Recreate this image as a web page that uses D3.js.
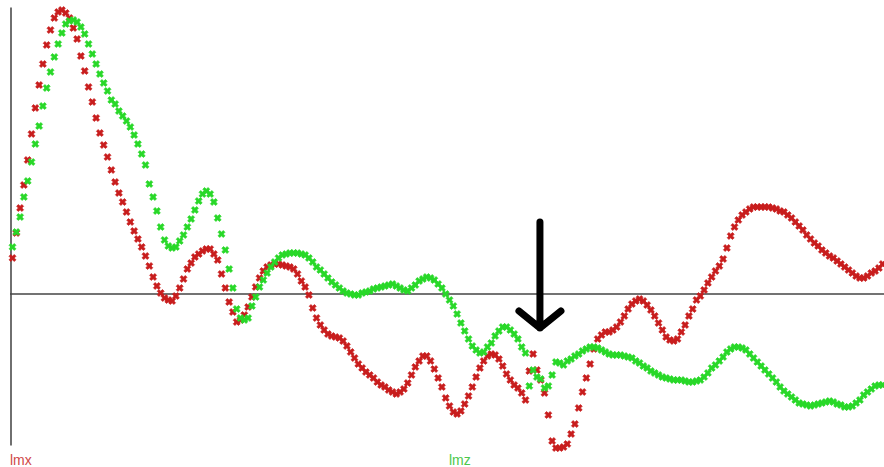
<!DOCTYPE html>
<html>
<head>
<meta charset="utf-8">
<script src="https://cdn.jsdelivr.net/npm/d3@7"></script>
<style>
  html, body { margin: 0; padding: 0; background: #fff; }
  svg { display: block; }
</style>
</head>
<body>
<svg id="chart" width="884" height="467"></svg>
<script>
// Series labels
const seriesNames = ["lmx", "lmz"];

// lmx samples (one per time step)
const lmx = [
  36, 61, 86, 109, 134, 160, 186, 209, 230, 249,
  264, 276, 282, 284, 281, 276, 266, 255, 238, 223,
  207, 192, 176, 161, 149, 137, 124, 112, 101, 92,
  82, 72, 63, 55, 47, 38, 28, 17, 8, 1,
  -4, -6, -7, -2, 6, 15, 25, 31, 37, 40,
  43, 45, 45, 40, 34, 20, 6, -8, -18, -28,
  -26, -21, -13, -3, 7, 16, 23, 27, 29, 30,
  30, 29, 28, 27, 25, 20, 13, 7, -1, -14,
  -24, -31, -36, -40, -42, -43, -44, -47, -52, -58,
  -64, -70, -74, -78, -81, -84, -88, -91, -93, -96,
  -98, -100, -98, -95, -89, -81, -73, -67, -62, -62,
  -67, -75, -84, -93, -104, -112, -118, -120, -117, -110,
  -102, -93, -83, -74, -67, -62, -60, -61, -65, -72,
  -80, -86, -91, -94, -99, -106, -77, -60, -76, -86,
  -99, -121, -147, -154, -154, -153, -150, -140, -130, -114,
  -98, -84, -70, -55, -45, -41, -38, -38, -36, -33,
  -28, -22, -15, -10, -7, -5, -7, -11, -16, -22,
  -29, -36, -43, -46, -47, -45, -38, -31, -22, -15,
  -6, -2, 4, 11, 17, 23, 28, 35, 46, 58,
  67, 74, 79, 82, 85, 87, 87, 87, 87, 87,
  86, 85, 83, 82, 79, 76, 72, 68, 64, 59,
  55, 51, 48, 44, 41, 38, 36, 33, 30, 27,
  24, 21, 18, 16, 16, 18, 21, 23, 26, 30
];

// lmz samples (same time steps)
const lmz = [
  47, 62, 77, 97, 113, 132, 150, 168, 188, 206,
  222, 237, 250, 261, 270, 273, 274, 272, 267, 260,
  250, 240, 230, 220, 211, 203, 194, 190, 183, 178,
  173, 167, 159, 150, 140, 129, 110, 97, 83, 67,
  54, 48, 46, 47, 53, 59, 67, 75, 84, 93,
  100, 103, 100, 92, 76, 60, 44, 25, 6, -15,
  -24, -26, -24, -12, -3, 7, 14, 21, 27, 32,
  36, 39, 40, 41, 41, 41, 40, 39, 36, 32,
  27, 24, 20, 16, 12, 9, 6, 3, 1, 0,
  -1, -1, 1, 2, 3, 5, 6, 7, 8, 9,
  10, 8, 6, 4, 3, 6, 9, 13, 15, 17,
  16, 14, 10, 6, 0, -6, -12, -20, -29, -37,
  -45, -52, -56, -59, -58, -53, -49, -42, -37, -33,
  -33, -36, -40, -45, -53, -59, -92, -76, -83, -85,
  -94, -92, -81, -68, -69, -71, -67, -65, -62, -60,
  -57, -55, -53, -53, -54, -56, -58, -60, -61, -61,
  -61, -62, -63, -64, -67, -69, -72, -74, -77, -79,
  -81, -83, -84, -85, -86, -86, -86, -87, -88, -88,
  -87, -86, -83, -79, -74, -71, -67, -63, -58, -55,
  -53, -53, -54, -56, -60, -64, -68, -72, -76, -80,
  -84, -88, -93, -97, -100, -103, -106, -109, -110, -111,
  -112, -111, -110, -109, -108, -107, -108, -110, -111, -113,
  -113, -112, -109, -106, -101, -98, -95, -92, -91, -91
];

// Arrow annotation: sample position and value span
const arrowAt = [138.8, 72, -34];

const colors = { lmx: "#c81d1d", lmz: "#28d828" };
const labelColors = { lmx: "#d04848", lmz: "#4cc84c" };

const svg = d3.select("#chart");

const x = d3.scaleLinear().domain([0, lmx.length - 1]).range([12.5, 882.7]);
const y = d3.scaleLinear().domain([-151, 287]).range([445, 7]);

// Vertical axis line
svg.append("g")
  .attr("transform", "translate(10.5,0)")
  .call(d3.axisLeft(y).ticks(0).tickSizeOuter(0))
  .select(".domain").attr("stroke", "#333").attr("stroke-width", 1.4);

// Zero line
svg.append("line")
  .attr("x1", 10).attr("x2", 884)
  .attr("y1", y(0)).attr("y2", y(0))
  .attr("stroke", "#444").attr("stroke-width", 1.4);

// Markers: small filled crosses turned 45 degrees
const marker = d3.symbol().type(d3.symbolCross).size(30);

function drawSeries(values, color) {
  svg.append("g")
    .selectAll("path")
    .data(values)
    .join("path")
    .attr("d", marker)
    .attr("fill", color)
    .attr("stroke", color)
    .attr("stroke-width", 0.7)
    .attr("stroke-linejoin", "round")
    .attr("transform", (d, i) => `translate(${x(i)},${y(d)}) rotate(45)`);
}

drawSeries(lmx, colors.lmx);
drawSeries(lmz, colors.lmz);

// Downward arrow
const ax = x(arrowAt[0]);
const yTop = y(arrowAt[1]);
const yTip = y(arrowAt[2]);
svg.append("path")
  .attr("d", `M${ax},${yTop}L${ax},${yTip}M${ax - 21},${yTip - 17}L${ax},${yTip}L${ax + 21},${yTip - 17}`)
  .attr("fill", "none")
  .attr("stroke", "#000")
  .attr("stroke-width", 7)
  .attr("stroke-linecap", "round")
  .attr("stroke-linejoin", "round");

// Series labels along the bottom
svg.append("text")
  .attr("x", 10).attr("y", 465)
  .attr("font-family", "Liberation Sans, Arial, sans-serif")
  .attr("font-size", 14)
  .attr("fill", labelColors.lmx)
  .text(seriesNames[0]);

svg.append("text")
  .attr("x", 449).attr("y", 465)
  .attr("font-family", "Liberation Sans, Arial, sans-serif")
  .attr("font-size", 14)
  .attr("fill", labelColors.lmz)
  .text(seriesNames[1]);
</script>
</body>
</html>
